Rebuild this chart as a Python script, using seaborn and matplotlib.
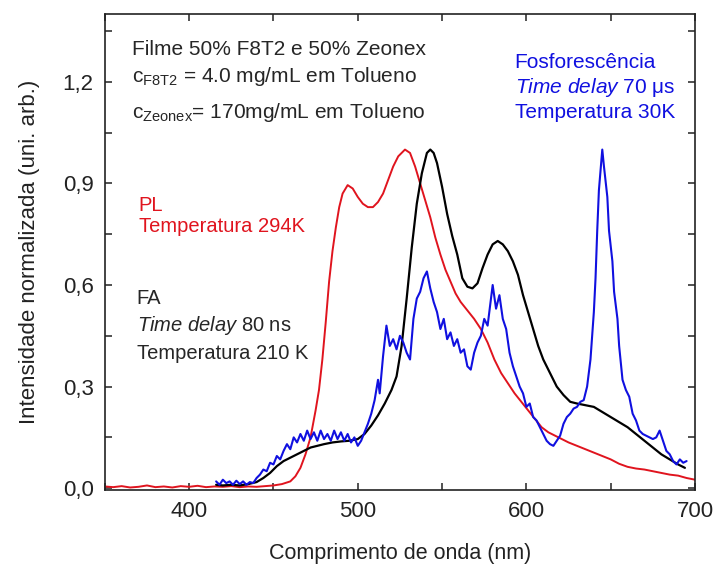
import numpy as np
import pandas as pd
import seaborn as sns
import matplotlib
matplotlib.use('Agg')
import matplotlib.pyplot as plt
from matplotlib.ticker import MultipleLocator

# dados (comprimento de onda em nm, intensidade normalizada)
pl_nm = [350, 355, 360, 365, 370, 375, 380, 385, 390, 395, 400, 405, 410, 415, 420, 425, 430,
         435, 440, 445, 450, 455, 460, 463, 466, 469, 472, 475, 477, 479, 481, 483, 485, 487,
         489, 491, 494, 497, 500, 503, 506, 509, 512, 515, 518, 521, 524, 528, 531, 534, 537,
         540, 543, 546, 549, 552, 555, 558, 561, 565, 569, 573, 577, 581, 585, 589, 593, 597,
         601, 605, 609, 613, 617, 621, 625, 630, 635, 640, 645, 650, 655, 660, 665, 670, 675,
         680, 685, 690, 695, 700]
pl_int = [0.005, 0.003, 0.006, 0.002, 0.004, 0.008, 0.003, 0.005, 0.002, 0.006, 0.004, 0.007,
          0.003, 0.005, 0.004, 0.006, 0.003, 0.005, 0.004, 0.006, 0.008, 0.012, 0.02, 0.035,
          0.06, 0.1, 0.15, 0.23, 0.29, 0.38, 0.49, 0.61, 0.70, 0.77, 0.83, 0.87, 0.895, 0.885,
          0.86, 0.84, 0.83, 0.83, 0.845, 0.87, 0.91, 0.95, 0.98, 1.0, 0.99, 0.95, 0.90, 0.85,
          0.80, 0.74, 0.69, 0.645, 0.61, 0.575, 0.55, 0.525, 0.50, 0.47, 0.43, 0.38, 0.34, 0.31,
          0.28, 0.255, 0.23, 0.205, 0.18, 0.165, 0.155, 0.145, 0.135, 0.125, 0.115, 0.105, 0.095,
          0.085, 0.072, 0.063, 0.058, 0.055, 0.05, 0.045, 0.04, 0.037, 0.03, 0.025]

fa_nm = [416, 420, 425, 430, 435, 440, 444, 448, 452, 456, 460, 464, 468, 472, 476, 480, 485,
         490, 495, 500, 504, 508, 512, 516, 520, 523, 526, 529, 532, 535, 538, 541, 543, 545,
         547, 550, 553, 556, 559, 562, 565, 568, 571, 574, 577, 580, 583, 586, 589, 592, 595,
         598, 601, 604, 607, 610, 614, 618, 622, 626, 630, 635, 640, 645, 650, 655, 660, 665,
         670, 675, 680, 685, 690, 694]
fa_int = [0.01, 0.008, 0.01, 0.008, 0.012, 0.018, 0.03, 0.045, 0.065, 0.08, 0.09, 0.10, 0.11,
          0.12, 0.125, 0.13, 0.135, 0.138, 0.14, 0.145, 0.16, 0.185, 0.215, 0.25, 0.29, 0.33,
          0.42, 0.56, 0.71, 0.84, 0.93, 0.99, 1.0, 0.99, 0.96, 0.89, 0.81, 0.745, 0.69, 0.62,
          0.595, 0.59, 0.605, 0.65, 0.69, 0.72, 0.73, 0.72, 0.70, 0.67, 0.63, 0.57, 0.52, 0.47,
          0.42, 0.38, 0.34, 0.30, 0.275, 0.255, 0.25, 0.245, 0.24, 0.225, 0.21, 0.195, 0.18,
          0.16, 0.14, 0.12, 0.10, 0.085, 0.07, 0.06]

fos_nm = [416, 418, 420, 422, 424, 426, 428, 430, 432, 434, 436, 438, 440, 442, 444, 446, 448,
          450, 452, 454, 456, 458, 460, 462, 464, 466, 468, 470, 472, 474, 476, 478, 480, 482,
          484, 486, 488, 490, 492, 494, 496, 498, 500, 502, 504, 506, 508, 510, 512, 513, 515,
          517, 519, 521, 523, 525, 527, 529, 531, 533, 535, 537, 539, 541, 543, 545, 547, 549,
          551, 553, 555, 557, 559, 561, 563, 565, 567, 569, 571, 573, 575, 577, 579, 580, 582,
          584, 586, 588, 590, 592, 594, 596, 598, 600, 602, 604, 606, 608, 610, 612, 614, 616,
          618, 620, 622, 624, 626, 628, 630, 632, 634, 636, 638, 640, 641, 642, 643, 645, 646,
          648, 649, 651, 652, 654, 655, 657, 659, 661, 663, 665, 667, 669, 671, 673, 675, 677,
          679, 681, 683, 685, 687, 689, 691, 693, 695]
fos_int = [0.02, 0.01, 0.025, 0.015, 0.02, 0.01, 0.022, 0.012, 0.02, 0.01, 0.018, 0.015, 0.03,
           0.04, 0.055, 0.05, 0.075, 0.07, 0.095, 0.085, 0.11, 0.13, 0.115, 0.15, 0.135, 0.16,
           0.14, 0.17, 0.145, 0.165, 0.14, 0.17, 0.145, 0.16, 0.14, 0.17, 0.145, 0.165, 0.14,
           0.16, 0.135, 0.15, 0.125, 0.14, 0.165, 0.19, 0.22, 0.26, 0.32, 0.28, 0.39, 0.48,
           0.42, 0.44, 0.41, 0.45, 0.43, 0.40, 0.38, 0.50, 0.56, 0.58, 0.62, 0.64, 0.59, 0.55,
           0.52, 0.47, 0.50, 0.44, 0.46, 0.42, 0.44, 0.40, 0.41, 0.36, 0.35, 0.40, 0.43, 0.45,
           0.50, 0.48, 0.56, 0.60, 0.53, 0.57, 0.50, 0.47, 0.40, 0.36, 0.33, 0.30, 0.28, 0.24,
           0.25, 0.21, 0.20, 0.18, 0.16, 0.14, 0.13, 0.125, 0.14, 0.155, 0.19, 0.21, 0.22,
           0.235, 0.24, 0.255, 0.26, 0.30, 0.38, 0.52, 0.62, 0.76, 0.88, 1.0, 0.95, 0.86, 0.76,
           0.67, 0.58, 0.50, 0.42, 0.32, 0.29, 0.27, 0.22, 0.20, 0.17, 0.16, 0.155, 0.15, 0.145,
           0.15, 0.17, 0.14, 0.11, 0.10, 0.08, 0.07, 0.085, 0.075, 0.08]

xtick_vals = [400, 500, 600, 700]
ytick_vals = [0.0, 0.3, 0.6, 0.9, 1.2]
ytick_labels = ['0,0', '0,3', '0,6', '0,9', '1,2']

sns.set_theme(style='ticks')
plt.rcParams['font.family'] = ['Liberation Sans', 'DejaVu Sans']
plt.rcParams['mathtext.fontset'] = 'custom'
plt.rcParams['mathtext.rm'] = 'Liberation Sans'
plt.rcParams['mathtext.it'] = 'Liberation Sans:italic'

cor_pl = '#e0141e'
cor_fos = '#1010e0'

df_pl = pd.DataFrame({'nm': pl_nm, 'val': pl_int})
df_fa = pd.DataFrame({'nm': fa_nm, 'val': fa_int})
df_fos = pd.DataFrame({'nm': fos_nm, 'val': fos_int})

fig = plt.figure(figsize=(7.18, 5.65), dpi=100)
ax = fig.add_axes([0.146, 0.133, 0.822, 0.842])

sns.lineplot(data=df_pl, x='nm', y='val', color=cor_pl, lw=1.4, ax=ax, sort=False)
sns.lineplot(data=df_fa, x='nm', y='val', color='black', lw=1.6, ax=ax, sort=False)
sns.lineplot(data=df_fos, x='nm', y='val', color=cor_fos, lw=1.5, ax=ax, sort=False)

ax.set_xlim(350, 700)
ax.set_ylim(-0.005, 1.4)
ax.set_xticks(xtick_vals)
ax.set_yticks(ytick_vals)
ax.set_yticklabels(ytick_labels)
ax.xaxis.set_minor_locator(MultipleLocator(50))
ax.yaxis.set_minor_locator(MultipleLocator(0.15))
ax.tick_params(which='both', direction='in', top=True, right=True, length=5, width=1.1,
               labelsize=16, colors='#222222', pad=8)
for s in ax.spines.values():
    s.set_linewidth(1.2)
    s.set_color('#222222')

ax.set_xlabel('Comprimento de onda (nm)', fontsize=15.5, color='#222222', labelpad=15)
ax.set_ylabel('Intensidade normalizada (uni. arb.)', fontsize=16, color='#222222', labelpad=16)

fs = 15
ax.text(366, 1.279, 'Filme 50% F8T2 e 50% Zeonex', fontsize=fs, va='baseline')
ax.text(366, 1.20, r'c$_{\mathrm{F8T2}}$ = 4.0 mg/mL em Tolueno', fontsize=fs, va='baseline')
ax.text(366, 1.094, r'c$_{\mathrm{Zeonex}}$= 170mg/mL em Tolueno', fontsize=fs, va='baseline')

ax.text(593, 1.241, 'Fosforescência', fontsize=fs, va='baseline', color=cor_fos)
ax.text(593, 1.168, r'$\mathit{Time\ delay}$ 70 μs', fontsize=fs, va='baseline', color=cor_fos)
ax.text(593, 1.094, 'Temperatura 30K', fontsize=fs, va='baseline', color=cor_fos)

fs2 = 14.5
ax.text(370, 0.818, 'PL', fontsize=fs2, va='baseline', color=cor_pl)
ax.text(370, 0.756, 'Temperatura 294K', fontsize=fs2, va='baseline', color=cor_pl)

ax.text(369, 0.544, 'FA', fontsize=fs2, va='baseline')
ax.text(369, 0.465, r'$\mathit{Time\ delay}$ 80 ns', fontsize=fs2, va='baseline')
ax.text(369, 0.382, 'Temperatura 210 K', fontsize=fs2, va='baseline')

fig.savefig('out.png', dpi=100)
